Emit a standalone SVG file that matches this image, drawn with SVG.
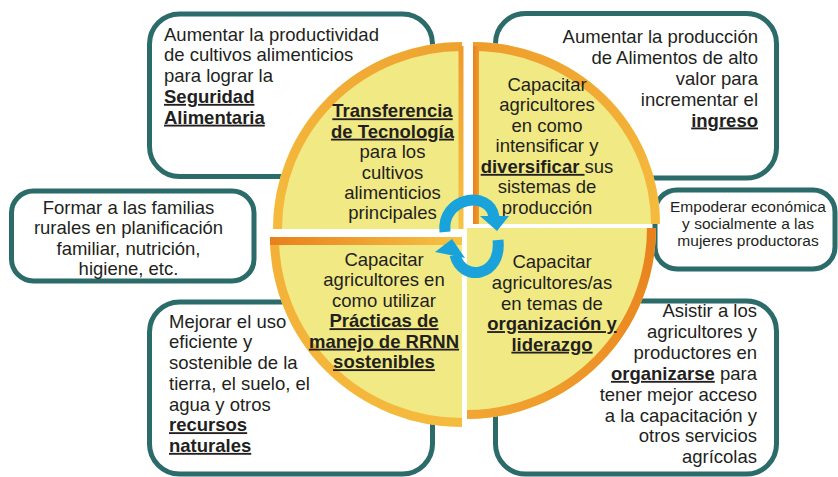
<svg xmlns="http://www.w3.org/2000/svg" width="838" height="477" viewBox="0 0 838 477">
<style>
.box{fill:#fff;stroke:#2b6b6a;stroke-width:5}
.t{font-family:"Liberation Sans",Arial,sans-serif;fill:#231f20;font-size:18.5px}
.s15{font-size:15.5px}
.m{text-anchor:middle}
.e{text-anchor:end}
.b{font-weight:bold;text-decoration:underline}
.q{fill:#f1e983}
.ring{fill:none;stroke-width:9}
.arr{fill:none;stroke:#1aa3da;stroke-width:11}
.ah{fill:#1aa3da}
</style>
<defs>
<linearGradient id="gTL" gradientUnits="userSpaceOnUse" x1="462" y1="42" x2="273" y2="229"><stop offset="0" stop-color="#eea230"/><stop offset="1" stop-color="#f5bb3e"/></linearGradient>
<linearGradient id="gTR" gradientUnits="userSpaceOnUse" x1="473" y1="42" x2="660" y2="224"><stop offset="0" stop-color="#ee9c2c"/><stop offset="1" stop-color="#f5bb3e"/></linearGradient>
<linearGradient id="gBL" gradientUnits="userSpaceOnUse" x1="270" y1="237" x2="462" y2="427"><stop offset="0" stop-color="#f3b038"/><stop offset="1" stop-color="#f5bb3e"/></linearGradient>
<linearGradient id="gBR" gradientUnits="userSpaceOnUse" x1="656" y1="228" x2="467" y2="419"><stop offset="0" stop-color="#e8801c"/><stop offset="1" stop-color="#f2a633"/></linearGradient>
<linearGradient id="gBand1" gradientUnits="userSpaceOnUse" x1="270" y1="0" x2="462" y2="0"><stop offset="0" stop-color="#e8801c"/><stop offset="1" stop-color="#f6c445"/></linearGradient>
<linearGradient id="gBand2" gradientUnits="userSpaceOnUse" x1="0" y1="46" x2="0" y2="229"><stop offset="0" stop-color="#ee9a2c"/><stop offset="1" stop-color="#f6c445"/></linearGradient>
<linearGradient id="gBand3" gradientUnits="userSpaceOnUse" x1="473" y1="0" x2="480" y2="0"><stop offset="0" stop-color="#e8801c"/><stop offset="1" stop-color="#f0a030"/></linearGradient>
</defs>
<rect width="838" height="477" fill="#fff"/>

<g id="box-tl">
<rect class="box" x="149.5" y="14" width="283" height="162.5" rx="30"/>
<text class="t" x="164" y="40.5">Aumentar la productividad</text>
<text class="t" x="164" y="61.3">de cultivos alimenticios</text>
<text class="t" x="164" y="82.1">para lograr la</text>
<text class="t b" x="164" y="102.9">Seguridad</text>
<text class="t b" x="164" y="123.7">Alimentaria</text>
</g>

<g id="box-tr">
<rect class="box" x="495.5" y="13.5" width="281" height="164.5" rx="30"/>
<text class="t e" x="758" y="43.3">Aumentar la producción</text>
<text class="t e" x="758" y="64.1">de Alimentos de alto</text>
<text class="t e" x="758" y="84.9">valor para</text>
<text class="t e" x="758" y="105.7">incrementar el</text>
<text class="t e b" x="758" y="126.5">ingreso</text>
</g>

<g id="box-ml">
<rect class="box" x="11.5" y="191" width="242.5" height="90" rx="22"/>
<text class="t m" x="128.5" y="213.5">Formar a las familias</text>
<text class="t m" x="128.5" y="234">rurales en planificación</text>
<text class="t m" x="128.5" y="254.5">familiar, nutrición,</text>
<text class="t m" x="128.5" y="275">higiene, etc.</text>
</g>

<g id="box-mr">
<rect class="box" x="655" y="190" width="180" height="79" rx="22"/>
<text class="t s15 m" x="748" y="212.3">Empoderar económica</text>
<text class="t s15 m" x="748" y="229">y socialmente a las</text>
<text class="t s15 m" x="748" y="245.7">mujeres productoras</text>
</g>

<g id="box-bl">
<rect class="box" x="149.5" y="302" width="283" height="172" rx="30"/>
<text class="t" x="169" y="327.7">Mejorar el uso</text>
<text class="t" x="169" y="348.4">eficiente y</text>
<text class="t" x="169" y="369.1">sostenible de la</text>
<text class="t" x="169" y="389.8">tierra, el suelo, el</text>
<text class="t" x="169" y="410.5">agua y otros</text>
<text class="t b" x="169" y="431.2">recursos</text>
<text class="t b" x="169" y="451.9">naturales</text>
</g>

<g id="box-br">
<rect class="box" x="495.5" y="301" width="281" height="173" rx="30"/>
<text class="t e" x="757" y="317.3">Asistir a los</text>
<text class="t e" x="757" y="338.2">agricultores y</text>
<text class="t e" x="757" y="359">productores en</text>
<text class="t e" x="757" y="379.9"><tspan class="b">organizarse</tspan> para</text>
<text class="t e" x="757" y="400.7">tener mejor acceso</text>
<text class="t e" x="757" y="421.6">a la capacitación y</text>
<text class="t e" x="757" y="442.4">otros servicios</text>
<text class="t e" x="757" y="463.3">agrícolas</text>
</g>

<g id="q-tl">
<path class="q" d="M462 229 L273 229 A189 187 0 0 1 462 42 Z"/>
<path class="ring" stroke="url(#gTL)" d="M277.5 229 A184.5 182.5 0 0 1 462 46.5"/>
<rect x="458.5" y="46" width="5" height="183" fill="url(#gBand2)"/>
<text class="t m b" x="392.5" y="117.3">Transferencia</text>
<text class="t m b" x="392.5" y="137.7">de Tecnología</text>
<text class="t m" x="392.5" y="158.1">para los</text>
<text class="t m" x="392.5" y="178.5">cultivos</text>
<text class="t m" x="392.5" y="198.9">alimenticios</text>
<text class="t m" x="392.5" y="219.3">principales</text>
</g>

<g id="q-tr">
<path class="q" d="M473 224 L473 42 A187 182 0 0 1 660 224 Z"/>
<path class="ring" stroke="url(#gTR)" d="M473 46.5 A182.5 177.5 0 0 1 655.5 224"/>
<rect x="473" y="46" width="6" height="178" fill="url(#gBand3)"/>
<text class="t m" x="547" y="90.7">Capacitar</text>
<text class="t m" x="547" y="111.2">agricultores</text>
<text class="t m" x="547" y="131.8">en como</text>
<text class="t m" x="547" y="152.3">intensificar y</text>
<text class="t m" x="547" y="172.9"><tspan class="b">diversificar </tspan>sus</text>
<text class="t m" x="547" y="193.4">sistemas de</text>
<text class="t m" x="547" y="214">producción</text>
</g>

<g id="q-bl">
<path class="q" d="M462 237 L462 427 A192 190 0 0 1 270 237 Z"/>
<path class="ring" stroke="url(#gBL)" d="M462 422.5 A187.5 185.5 0 0 1 274.5 237"/>
<rect x="270" y="237" width="192" height="8" fill="url(#gBand1)"/>
<text class="t m" x="384" y="265.7">Capacitar</text>
<text class="t m" x="384" y="286.2">agricultores en</text>
<text class="t m" x="384" y="306.7">como utilizar</text>
<text class="t m b" x="384" y="327.2">Prácticas de</text>
<text class="t m b" x="384" y="347.7">manejo de RRNN</text>
<text class="t m b" x="384" y="368.2">sostenibles</text>
</g>

<g id="q-br">
<path class="q" d="M467 228 L656 228 A189 191 0 0 1 467 419 Z"/>
<path class="ring" stroke="url(#gBR)" d="M651.5 228 A184.5 186.5 0 0 1 467 414.5"/>
<text class="t m" x="552" y="268.3">Capacitar</text>
<text class="t m" x="552" y="288.9">agricultores/as</text>
<text class="t m" x="552" y="309.5">en temas de</text>
<text class="t m b" x="552" y="330.1">organización y</text>
<text class="t m b" x="552" y="350.7">liderazgo</text>
</g>

<g id="connectors">
<path class="arr" d="M445 232 C441 197 490 189 494 217"/>
<polygon class="ah" points="480,216 509,216 497,231"/>
<path class="arr" d="M498 240 C502 277 462 283 455 255"/>
<polygon class="ah" points="435,252 452,239 465,258"/>
</g>
</svg>
